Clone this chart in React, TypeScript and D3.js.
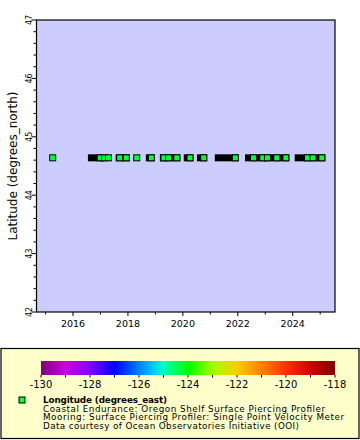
import React from 'react';
import * as d3 from 'd3';

// station position (single location, coloured by longitude)
const stationLon = -124.3;
const stationLat = 44.64;

// periods of dense sampling (decimal years) -> overlapping markers look black
const denseStart = [2016.67, 2017.68, 2018.78, 2019.29, 2020.16, 2020.64, 2021.29, 2022.39, 2024.2];
const denseEnd = [2017.01, 2017.94, 2018.85, 2019.78, 2020.26, 2020.76, 2021.91, 2023.75, 2025.06];

// individually visible samples (decimal years)
const sampleTimes = [
  2015.26, 2016.99, 2017.15, 2017.29, 2017.7, 2017.94, 2018.32, 2018.85,
  2019.31, 2019.48, 2019.78, 2020.26, 2020.76, 2021.91, 2022.57, 2022.91,
  2023.08, 2023.42, 2023.75, 2024.54, 2024.74, 2025.06,
];

const yearTicks = [2015, 2016, 2017, 2018, 2019, 2020, 2021, 2022, 2023, 2024, 2025];
const latTicks = [42, 43, 44, 45, 46, 47];
const lonTicks = [-130, -129, -128, -127, -126, -125, -124, -123, -122, -121, -120, -119, -118];

// colour bar palette stops
const paletteValues = [-130, -129, -128, -127, -126, -125.5, -125, -124, -123, -122, -121, -120, -119, -118];
const paletteColors = ['#800080', '#cc00dd', '#8000ff', '#0000ff', '#0080ff', '#00c0ff', '#00ffc0', '#00ff00', '#a0ff00', '#ffcc00', '#ff8000', '#ff3000', '#d00000', '#800000'];

const legendTitle = 'Longitude (degrees_east)';
const legendLines = [
  'Coastal Endurance: Oregon Shelf Surface Piercing Profiler',
  'Mooring: Surface Piercing Profiler: Single Point Velocity Meter',
  'Data courtesy of Ocean Observatories Initiative (OOI)',
];
const legendWidths = [282, 301, 256];

const font = 'DejaVu Sans, sans-serif';

const App: React.FC = () => {
  const left = 36.5, right = 335, top = 20, bottom = 312;
  const x = d3.scaleLinear().domain([2014.67, 2025.54]).range([left, right]);
  const y = d3.scaleLinear().domain([42, 47]).range([bottom, top]);
  const color = d3.scaleLinear<string>().domain(paletteValues).range(paletteColors).clamp(true);
  const minorLat = d3.range(42, 47.001, 0.2);

  const cbLeft = 41, cbRight = 335, cbTop = 361, cbH = 14;
  const cx = d3.scaleLinear().domain([-130, -118]).range([cbLeft, cbRight]);

  const my = y(stationLat);
  const ms = 6;
  const fill = color(stationLon);

  return (
    <svg width={360} height={440} style={{ position: 'absolute', left: 0, top: 0 }} fontFamily={font}>
      <rect x={0} y={0} width={360} height={440} fill="#fff" />
      {/* plot */}
      <rect x={left} y={top} width={right - left} height={bottom - top} fill="#ccccff" stroke="#000" strokeWidth={1.2} />
      {denseStart.map((s, i) => (
        <rect key={'d' + i} x={x(s) - ms / 2 - 0.5} y={my - ms / 2 - 0.5}
          width={x(denseEnd[i]) - x(s) + ms + 1} height={ms + 1} fill="#000" />
      ))}
      {sampleTimes.map((t, i) => (
        <rect key={'p' + i} x={x(t) - ms / 2} y={my - ms / 2} width={ms} height={ms}
          fill={fill} stroke="#000" strokeWidth={1} />
      ))}
      {/* x axis */}
      {yearTicks.map(t => (
        <g key={'x' + t}>
          <line x1={x(t)} x2={x(t)} y1={bottom} y2={bottom + (t % 2 === 0 ? 4 : 2.5)} stroke="#000" />
          {t % 2 === 0 && (
            <text x={x(t)} y={327} fontSize={9.5} textAnchor="middle">{t}</text>
          )}
        </g>
      ))}
      {/* y axis */}
      {minorLat.map((v, i) => (
        <line key={'ym' + i} x1={left} x2={left - (i % 5 === 0 ? 5 : 3)} y1={y(v)} y2={y(v)} stroke="#000" />
      ))}
      {latTicks.map(v => (
        <text key={'yl' + v} transform={`translate(31.5,${y(v)}) rotate(-90)`} fontSize={8} textAnchor="middle">{v}</text>
      ))}
      <text transform={`translate(17,${(top + bottom) / 2}) rotate(-90)`} fontSize={12} textAnchor="middle">
        Latitude (degrees_north)
      </text>
      {/* legend */}
      <rect x={1} y={348.5} width={358} height={90} fill="#ffffcc" stroke="#000" strokeWidth={1.2} />
      <defs>
        <linearGradient id="pal" x1="0" x2="1" y1="0" y2="0">
          {paletteValues.map((v, i) => (
            <stop key={v} offset={(v + 130) / 12} stopColor={paletteColors[i]} />
          ))}
        </linearGradient>
      </defs>
      <rect x={cbLeft} y={cbTop} width={cbRight - cbLeft} height={cbH} fill="url(#pal)" />
      {lonTicks.map(v => (
        <g key={'c' + v}>
          <line x1={cx(v)} x2={cx(v)} y1={cbTop + cbH} y2={cbTop + cbH + 2.5} stroke="#000" />
          {v % 2 === 0 && (
            <text x={cx(v)} y={388} fontSize={10} textAnchor="middle">{v}</text>
          )}
        </g>
      ))}
      <rect x={19} y={397} width={ms} height={ms} fill={fill} stroke="#000" strokeWidth={1} />
      <text x={43} y={403.3} fontSize={8.8} fontWeight="bold" textLength={124} lengthAdjust="spacing">{legendTitle}</text>
      {legendLines.map((l, i) => (
        <text key={l} x={43} y={411.8 + i * 8.5} fontSize={8.8} textLength={legendWidths[i]} lengthAdjust="spacing">{l}</text>
      ))}
    </svg>
  );
};

export default App;
